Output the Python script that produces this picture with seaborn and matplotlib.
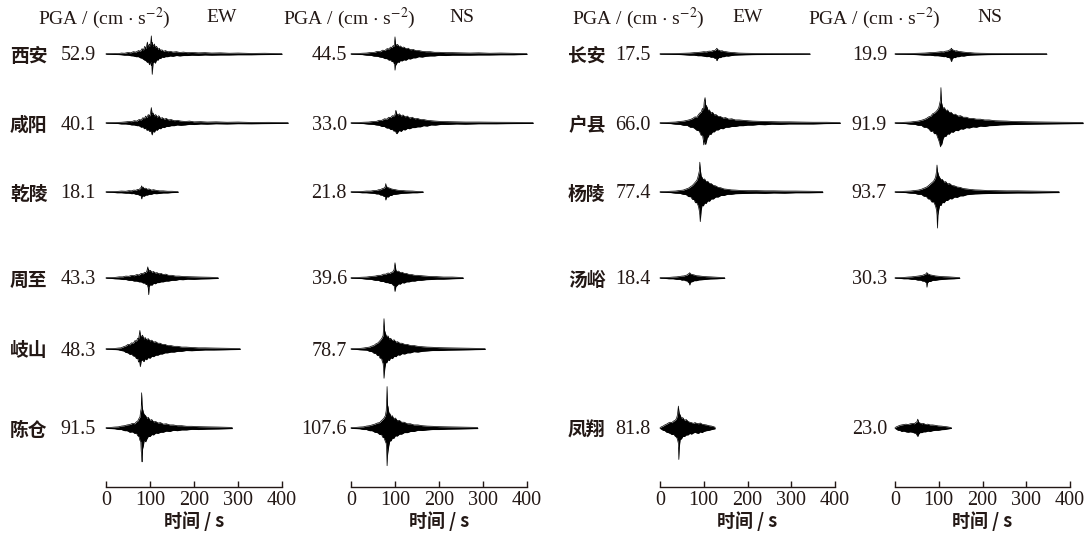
import numpy as np
import pandas as pd
import matplotlib
matplotlib.use("Agg")
import matplotlib.pyplot as plt
import seaborn as sns

sns.set_theme(style="white")
plt.rcParams['font.family'] = ['Liberation Serif', 'Noto Sans CJK SC']
plt.rcParams['mathtext.fontset'] = 'stix'

# ---------------- data ----------------
left_stations = ['西安', '咸阳', '乾陵', '周至', '岐山', '陈仓']
right_stations = ['长安', '户县', '杨陵', '汤峪', None, '凤翔']
left_pga_ew = [52.9, 40.1, 18.1, 43.3, 48.3, 91.5]
left_pga_ns = [44.5, 33.0, 21.8, 39.6, 78.7, 107.6]
right_pga_ew = [17.5, 66.0, 77.4, 18.4, None, 81.8]
right_pga_ns = [19.9, 91.9, 93.7, 30.3, None, 23.0]
time_ticks = [0, 100, 200, 300, 400]

# envelopes: (time s, upward amplitude, downward amplitude) in cm/s^2
xian_ew = [(0,.8,.8),(10,1,1),(20,1.5,1.2),(28,1,1.5),(35,2.5,2),(42,2,3),(50,4,3),(56,3,4.5),(62,6,5),(68,5,7),(74,9,7),(78,7,10),(82,14,11),(85,10,14),(88,20,16),(91,14,18),(94,31,22),(96,18,20),(99,26,28),(101,20,18),(103,47,30),(104,28,25),(105,30,52.9),(107,20,22),(110,26,20),(112,16,24),(115,20,15),(118,12,16),(121,15,11),(124,9,12),(127,11,8),(131,7,9),(135,9,7),(140,6,7),(146,7,5),(152,5,6),(160,6,4),(168,4,5),(176,5,4),(185,3.5,4),(195,4,3),(210,3,3.5),(225,3.5,2.5),(240,2.5,3),(260,3,2.5),(280,2,2.5),(300,2.5,2),(330,1.5,2),(360,2,1.5),(400,1,1)]
xianyang_ew = [(0,.8,.8),(12,1,1),(25,1.5,1.2),(35,2,2.5),(45,3,2.5),(52,4,3.5),(58,3.5,5),(64,6,5),(70,5,7),(75,9,7),(80,8,11),(84,14,10),(87,11,15),(90,18,13),(93,14,19),(96,22,17),(99,18,22),(101,25,20),(103,40.1,24),(105,22,31),(107,26,20),(110,18,24),(113,22,17),(116,15,19),(120,19,14),(124,12,15),(128,14,11),(132,10,12),(137,12,9),(142,8,9),(148,9,7),(155,6,7),(162,7,5),(170,5,6),(180,4,5),(190,5,3.5),(200,3,4),(215,3.5,2.5),(230,2.5,3),(250,3,2),(275,2,2.5),(300,2.5,1.8),(330,1.5,2),(370,1.8,1.5),(414,1,1)]
qianling_ew = [(0,.8,.8),(15,1.2,1),(25,1.5,2),(35,2.5,2),(45,2,3),(52,3.5,3),(58,3,4.5),(63,5,4),(68,4.5,6),(72,7,6),(75,6,8),(78,10,9),(80,12,11),(81,16,18.1),(82,11,12),(84,13,10),(87,9,11),(90,10,8),(94,7,8),(98,8,6),(103,5,6),(108,6,4),(115,4,4.5),(122,3,3.5),(130,3,2.5),(140,2,2.5),(150,2,1.5),(164,1,1)]
zhouzhi_ew = [(0,.8,.8),(10,1.2,1),(20,1.5,2),(30,3,2.5),(38,3,4),(45,5,4),(52,4.5,6),(58,7,6),(64,6,8),(70,9,8),(75,8,10),(80,12,10),(84,11,13),(88,15,13),(91,14,17),(93,19,16),(95,29,22),(96,20,26),(97,22,43.3),(98,18,22),(101,20,17),(104,15,19),(108,17,14),(112,13,15),(116,14,12),(120,11,12),(125,12,10),(130,9,10),(136,10,8),(142,7,8),(150,7,6),(158,5,6),(166,5,4),(175,4,4.5),(185,3.5,3),(200,3,3.5),(215,2.5,2.5),(235,2,2),(255,1.2,1.2)]
qishan_ew = [(0,.8,.8),(10,1,1.2),(20,1.5,1.5),(28,2.5,2),(34,3,4),(40,6,5),(45,8,9),(50,12,10),(54,11,14),(58,16,13),(62,15,18),(66,22,19),(69,20,25),(72,28,24),(74,26,34),(76,40,30),(77,48.3,38),(78,35,46),(80,32,30),(83,36,28),(86,26,33),(89,30,25),(92,24,28),(96,27,22),(100,21,24),(104,23,19),(108,18,20),(113,19,16),(118,15,16),(123,15,13),(128,12,13),(134,12,10),(140,9,10),(147,9,8),(155,7,8),(163,7,6),(172,5,6),(182,5,4),(195,4,4.5),(210,3,3.5),(225,3,2.5),(245,2.5,2.5),(270,2,2),(305,1.2,1.2)]
chencang_ew = [(0,1,1),(10,1.5,1.5),(20,2.5,2),(28,3,4),(35,5,4),(42,6,7),(48,8,7),(54,9,11),(60,12,10),(65,11,14),(69,16,13),(72,18,20),(75,25,22),(77,28,32),(79,45,35),(80,50,60),(81,91.5,70),(82,60,88),(83,50,55),(85,40,45),(87,35,30),(90,32,36),(93,25,28),(96,28,22),(100,20,22),(104,22,17),(108,16,18),(113,17,13),(118,13,14),(124,14,11),(130,10,11),(137,11,8),(145,8,9),(153,8,6),(162,6,7),(172,6,5),(183,4.5,5),(195,4.5,3.5),(210,3.5,4),(230,3,3),(255,2.5,2.5),(287,1.5,1.5)]

xian_ns = [(0,.8,.8),(15,1.2,1.2),(25,2,1.5),(35,2.5,3),(45,4,3.5),(52,4,5.5),(60,7,6),(66,6,8),(72,10,9),(77,9,12),(82,14,12),(86,13,16),(90,18,15),(93,17,20),(96,22,19),(98,20,25),(99,30,22),(100,44.5,42),(101,28,30),(103,22,26),(106,25,20),(109,19,22),(112,21,17),(116,17,18),(120,18,15),(125,14,16),(130,15,12),(135,11,13),(141,12,10),(147,9,10),(154,9,7),(162,7,8),(170,6,6),(180,6,5),(190,4.5,5),(200,4.5,3.5),(215,3.5,4),(230,3.5,3),(250,3,3),(270,2.5,3),(290,3,2.5),(315,2,2.5),(340,2.5,2),(370,1.8,2),(400,1.2,1.2)]
xianyang_ns = [(0,.8,.8),(15,1.2,1),(28,2,1.5),(40,2.5,3),(50,4,3.5),(57,4,5),(64,7,6),(70,7,9),(76,11,9),(81,10,13),(86,15,13),(90,14,17),(94,19,16),(97,18,21),(100,22,20),(102,33,24),(104,24,28),(107,21,23),(110,24,19),(114,18,22),(118,21,17),(123,16,18),(128,18,14),(133,13,15),(139,15,12),(145,11,12),(151,12,10),(158,9,10),(165,9,7),(173,7,8),(182,6,5),(192,5,5.5),(205,4,3.5),(220,3.5,3.5),(240,3,2.5),(260,2.5,3),(290,2.5,2),(330,2,2),(370,1.8,1.5),(414,1.2,1.2)]
qianling_ns = [(0,.8,.8),(15,1.2,1),(25,1.5,2),(35,2.5,2),(45,2.5,3),(52,4,3.5),(58,4,5),(63,6,5),(67,6,8),(71,9,8),(74,9,11),(76,12,11),(78,14,13),(79,21.8,21),(80,15,16),(82,13,12),(85,11,13),(88,10,9),(92,8,9),(96,7,6),(101,6,6),(107,4.5,5),(115,4,3.5),(125,3,3),(140,2.5,2),(150,1.5,2),(164,1,1)]
zhouzhi_ns = [(0,.8,.8),(12,1.2,1),(24,2,1.5),(35,2.5,3),(45,4,3.5),(55,5,6),(62,7,6),(68,7,9),(74,10,9),(79,10,12),(84,13,12),(88,12,14),(92,15,14),(95,16,18),(98,22,20),(100,39.6,35),(102,20,22),(105,17,19),(108,18,15),(112,14,16),(116,15,12),(121,12,13),(126,12,10),(132,9,10),(138,9,8),(145,7,8),(152,7,6),(160,6,6),(170,5,4.5),(180,4,4),(195,3.5,3),(210,2.5,3),(230,2.5,2),(255,1.2,1.2)]
qishan_ns = [(0,.8,.8),(10,1.2,1),(20,1.5,2),(28,2.5,2.5),(36,4,3),(42,5,6),(48,8,7),(52,9,11),(56,13,11),(60,15,17),(63,18,16),(66,22,24),(69,26,23),(71,30,32),(73,35,38),(74,55,50),(75,78.7,76),(76,50,60),(77,45,48),(79,38,35),(81,32,36),(84,34,28),(87,26,30),(90,28,23),(94,22,25),(98,24,19),(102,18,20),(106,19,15),(111,15,16),(116,15,12),(122,12,13),(128,12,10),(135,9,10),(143,9,7),(152,7,8),(162,6,6),(173,5,5),(185,4.5,4),(200,3.5,4),(220,3,3),(245,2.5,2.5),(270,2,2),(305,1.2,1.2)]
chencang_ns = [(0,1,1),(10,1.5,1.5),(20,2.5,2),(28,3,4),(35,5,4),(42,6,7),(48,8,7),(54,10,11),(60,13,12),(65,14,17),(69,19,16),(72,22,24),(75,26,25),(78,32,35),(80,45,40),(81,70,55),(82,107.6,98),(83,60,70),(84,55,60),(86,40,45),(88,38,34),(91,30,33),(94,32,26),(97,24,27),(101,26,20),(105,19,21),(110,20,16),(115,15,16),(121,15,12),(128,11,12),(135,11,9),(143,8,9),(152,8,6),(162,6,6.5),(173,5,5),(185,4.5,4),(200,3.5,4),(220,3,3),(245,2.5,2.5),(288,1.5,1.5)]

changan_ew = [(0,.8,.8),(20,1,1),(40,1.5,1.2),(55,2,2),(68,2.5,3),(78,3.5,3),(86,4,4.5),(94,5,4.5),(100,6,5.5),(106,5.5,7),(112,7.5,6.5),(117,7,8.5),(121,9,8),(125,9,11),(128,12,11),(130,15,17.5),(132,11,12),(135,10,9),(138,8,9.5),(142,8.5,7),(146,6.5,7),(151,6,5),(156,5,5.5),(163,4,4),(170,3.5,3),(180,2.5,2.5),(195,2,2),(220,1.5,1.5),(260,1.2,1.2),(300,1,1),(343,.8,.8)]
huxian_ew = [(0,.8,.8),(12,1.2,1),(24,2,1.5),(35,2.5,3),(45,4,3.5),(54,5,6),(62,7,6),(69,9,11),(75,12,11),(80,16,15),(84,15,19),(88,22,19),(91,26,24),(94,28,32),(97,38,30),(99,34,45),(100,40,57),(101,55,45),(103,66,50),(104,48,56),(106,45,48),(108,40,38),(110,32,36),(113,34,28),(116,26,30),(120,28,23),(124,21,23),(128,22,18),(133,17,18),(138,17,14),(144,13,15),(150,14,11),(157,10,11),(164,11,9),(172,8,9),(181,8,7),(190,7,7),(200,6,5.5),(212,5,5.5),(225,4.5,4),(240,4,4.5),(255,3.5,3),(275,3,3.5),(295,3,2.5),(320,2.5,2.5),(350,2,2.5),(380,2,1.5),(412,1.2,1.2)]
yangling_ew = [(0,.8,.8),(12,1.2,1),(24,2,1.5),(35,2.5,3),(45,4,3.5),(53,5,6),(60,8,7),(65,10,12),(70,14,12),(74,17,19),(78,22,20),(81,26,28),(84,30,27),(86,36,32),(88,45,38),(90,55,50),(91,77.4,60),(92,60,77),(94,42,48),(96,38,35),(99,32,36),(102,34,28),(105,27,30),(109,28,23),(113,22,24),(117,22,18),(122,17,18),(127,16,13),(133,12,13),(139,11,9),(146,8,9),(154,7,6),(163,5.5,6),(172,5,4.5),(185,4,4),(200,3.5,3.5),(220,3.5,3),(240,3,3.5),(260,3,2.5),(285,2.5,3),(310,2.5,2),(340,2,2),(372,1.5,1.5)]
tangyu_ew = [(0,.8,.8),(10,1.2,1),(20,1.5,2),(30,2.5,2),(38,3,3.5),(45,4,3.5),(50,5,5.5),(55,5.5,5),(59,7,7.5),(62,8,7),(65,11,12),(67,12,13),(68,14,18.4),(69,11,13),(71,10,10),(74,9,9.5),(78,8,7),(83,6,7),(89,5.5,5),(96,4.5,4.5),(105,3.5,3.5),(115,3,2.5),(130,2,2),(148,1,1)]
fengxiang_ew = [(0,1,1),(3,3,3),(7,5,6),(11,8,7),(15,10,11),(19,13,12),(23,15,14),(27,14,17),(31,18,16),(35,20,22),(38,26,24),(40,35,30),(42,57,40),(43,45,81.8),(44,38,50),(46,34,30),(49,25,28),(52,27,22),(56,20,22),(60,22,18),(64,17,18),(68,15,14),(72,14,16),(76,12,13),(80,14,11),(84,12,13),(88,11,14),(92,13,10),(96,10,12),(100,9,9),(106,8,7),(112,6,6),(118,5,4),(126,2,2)]

changan_ns = [(0,.8,.8),(20,1,1),(40,1.5,1.2),(55,2,2),(68,2.5,3),(80,3.5,3),(90,4,4.5),(98,5,4.5),(105,6,5.5),(111,5.5,7),(116,7.5,6.5),(120,8,9),(124,10,9),(127,12,13),(129,15,19.9),(131,11,12),(134,10,9),(137,8,9.5),(141,8.5,7),(146,6.5,7),(151,6,5),(157,5,5.5),(164,4,4),(172,3.5,3),(182,2.5,2.5),(197,2,2),(220,1.5,1.5),(260,1.2,1.2),(300,1,1),(347,.8,.8)]
huxian_ns = [(0,.8,.8),(12,1.2,1),(24,2,1.5),(35,2.5,3),(45,4,3.5),(53,5,6),(60,7,6),(66,9,11),(72,12,11),(77,16,15),(82,18,22),(86,24,20),(90,26,28),(94,30,27),(97,34,36),(100,40,45),(102,50,52),(104,60,62),(105,91.9,50),(106,55,58),(108,45,50),(110,38,40),(113,40,34),(116,32,35),(120,34,28),(124,27,29),(128,28,23),(133,22,24),(138,23,19),(144,18,20),(150,19,15),(156,15,16),(163,15,12),(170,12,13),(178,12,10),(186,10,11),(195,10,8),(205,8,9),(215,8,7),(228,6,6.5),(240,5.5,5),(255,5,4.5),(270,4,4),(290,3.5,3.5),(315,3,3),(345,2.5,2.5),(380,2,2),(430,1.5,1.5)]
yangling_ns = [(0,.8,.8),(12,1.2,1),(24,2,1.5),(35,2.5,3),(45,4,3.5),(53,5,6),(60,7,6),(66,10,11),(71,12,11),(76,16,18),(80,20,18),(84,24,26),(88,28,25),(91,34,32),(93,40,38),(95,55,48),(96,70,60),(97,55,93.7),(98,50,60),(100,42,45),(102,38,34),(105,32,35),(108,33,27),(112,26,28),(116,27,22),(120,21,22),(125,22,17),(130,17,18),(136,16,13),(142,13,14),(149,12,10),(156,9,10),(164,8,7),(173,6.5,6),(183,5.5,5),(195,5,4.5),(210,4,4),(230,3.5,3.5),(255,3,3),(280,3,2.5),(310,2.5,2.5),(340,2,2),(375,1.5,1.5)]
tangyu_ns = [(0,.8,.8),(10,1.2,1),(20,1.5,2),(30,2.5,2),(38,3,3.5),(45,4,3.5),(52,5,5.5),(58,6,5.5),(63,7,8),(67,9,8),(70,10,11),(72,13,12),(73,14,24),(74,11,13),(77,10,9),(81,8,9),(86,7,6),(92,5.5,6),(100,4.5,4.5),(110,3.5,3.5),(122,3,2.5),(135,2,2),(148,1,1)]
fengxiang_ns = [(0,1,1),(3,3,3),(7,5,6),(11,7,6),(15,8,9),(20,9,8),(25,10,10),(30,9,11),(35,11,10),(40,12,11),(44,11,13),(47,14,13),(50,16,18),(52,23,22),(54,15,16),(57,13,12),(61,11,12),(65,12,10),(70,9,10),(75,10,8),(80,8,9),(86,8,7),(92,7,6),(99,5.5,6),(106,5,4.5),(113,4,4),(120,3,2.5),(129,1,1)]

left_ew_env = [xian_ew, xianyang_ew, qianling_ew, zhouzhi_ew, qishan_ew, chencang_ew]
left_ns_env = [xian_ns, xianyang_ns, qianling_ns, zhouzhi_ns, qishan_ns, chencang_ns]
right_ew_env = [changan_ew, huxian_ew, yangling_ew, tangyu_ew, None, fengxiang_ew]
right_ns_env = [changan_ns, huxian_ns, yangling_ns, tangyu_ns, None, fengxiang_ns]

# ---------------- layout ----------------
W, H = 1089, 534
fig = plt.figure(figsize=(W / 100, H / 100), dpi=100)
row_px = [54, 123, 192, 278, 349, 428]
axis_px = 487
px_per_gal = 0.385
ink = '#231815'

panels = [
    dict(x0=106, w=176, env=left_ew_env, pga=left_pga_ew, names=left_stations, name_x=10, num_x=96,
         head_x=38, comp='EW', comp_x=222),
    dict(x0=351, w=176, env=left_ns_env, pga=left_pga_ns, names=None, name_x=None, num_x=347,
         head_x=283, comp='NS', comp_x=462),
    dict(x0=660, w=175, env=right_ew_env, pga=right_pga_ew, names=right_stations, name_x=568, num_x=651,
         head_x=572, comp='EW', comp_x=748),
    dict(x0=895, w=175, env=right_ns_env, pga=right_pga_ns, names=None, name_x=None, num_x=887,
         head_x=808, comp='NS', comp_x=990),
]

cjk = ['Noto Sans CJK SC']
num_font = ['Liberation Serif']

for p in panels:
    ax = fig.add_axes([p['x0'] / W, (H - axis_px) / H, p['w'] / W, axis_px / H])
    ax.set_xlim(0, 400)
    ax.set_ylim(axis_px, 0)
    for i, env in enumerate(p['env']):
        if env is None:
            continue
        df = pd.DataFrame(env, columns=['t', 'up', 'dn'])
        df['y_up'] = row_px[i] - df['up'] * px_per_gal
        df['y_dn'] = row_px[i] + df['dn'] * px_per_gal
        sns.lineplot(data=df, x='t', y='y_up', ax=ax, color='black', lw=0.5,
                     estimator=None, sort=False, clip_on=False)
        sns.lineplot(data=df, x='t', y='y_dn', ax=ax, color='black', lw=0.5,
                     estimator=None, sort=False, clip_on=False)
        ax.fill_between(df['t'], df['y_up'], df['y_dn'], color='black', lw=0, clip_on=False)
        fig.text(p['num_x'] / W, 1 - (row_px[i] + 2) / H, f"{p['pga'][i]:.1f}", ha='right', va='center',
                 fontsize=14.5, family=num_font, color=ink)
        if p['names'] is not None:
            fig.text(p['name_x'] / W, 1 - (row_px[i] + 2) / H, p['names'][i], ha='left', va='center',
                     fontsize=13.5, family=cjk, fontweight='bold', color=ink)
    fig.text(p['head_x'] / W, 1 - 18 / H, r'PGA / (cm $\cdot$ s$^{-2}$)', ha='left', va='center',
             fontsize=14, family=num_font, color=ink)
    fig.text(p['comp_x'] / W, 1 - 18 / H, p['comp'], ha='center', va='center',
             fontsize=14, family=num_font, color=ink)
    for s in ['top', 'left', 'right']:
        ax.spines[s].set_visible(False)
    ax.spines['bottom'].set_bounds(0, 400)
    ax.spines['bottom'].set_color(ink)
    ax.spines['bottom'].set_linewidth(1.0)
    ax.set_yticks([])
    ax.set_ylabel('')
    ax.set_xticks(time_ticks)
    ax.set_xticklabels([str(t) for t in time_ticks], fontsize=14.5, family=num_font, color=ink)
    ax.tick_params(axis='x', direction='in', length=4, width=1.0, color=ink, pad=3, bottom=True)
    ax.set_xlabel('时间 / s', fontsize=13, family=cjk, fontweight='bold', color=ink, labelpad=1)
    ax.patch.set_alpha(0)

fig.savefig('out.png', dpi=100)
